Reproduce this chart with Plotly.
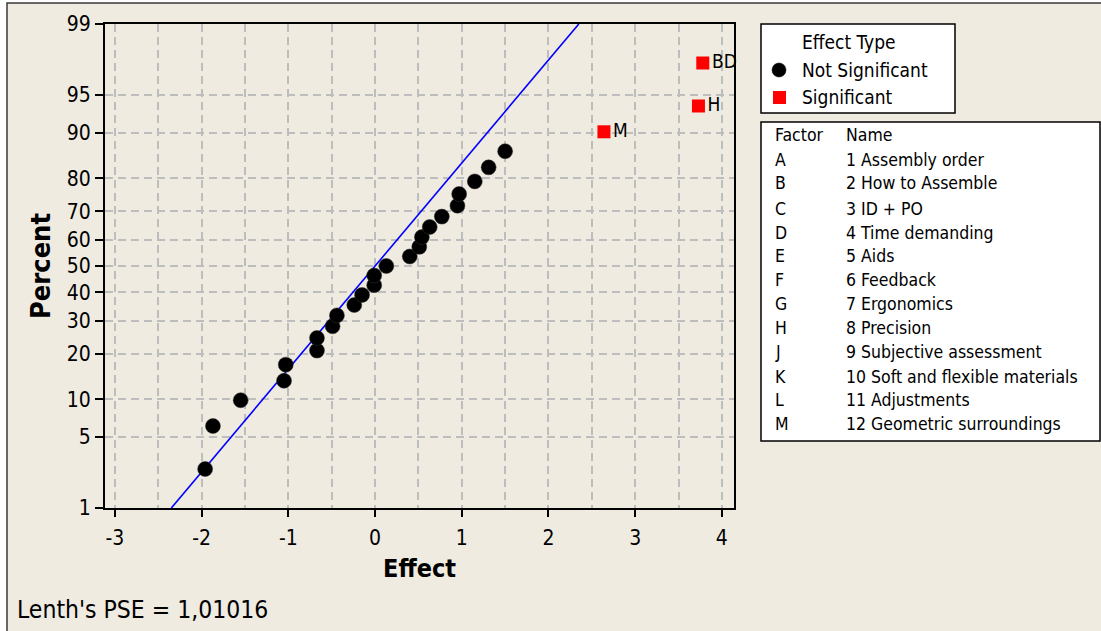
import plotly.graph_objects as go
from statistics import NormalDist

nd = NormalDist()

# ---------------- data ----------------
effect_ns = [-1.96, -1.87, -1.55, -1.05, -1.03, -0.67, -0.67, -0.49, -0.44, -0.24,
             -0.15, -0.01, -0.01, 0.13, 0.40, 0.51, 0.54, 0.63, 0.77, 0.95,
             0.97, 1.15, 1.31, 1.50]
percent_ns = [2.55, 6.20, 9.85, 13.50, 17.15, 20.80, 24.45, 28.10, 31.75, 35.40,
              39.05, 42.70, 46.35, 50.00, 53.65, 57.30, 60.95, 64.60, 68.25, 71.90,
              75.55, 79.20, 82.85, 86.50]
effect_sig = [2.64, 3.73, 3.78]
percent_sig = [90.15, 93.80, 97.45]
labels_sig = ["M", "H", "BD"]

lenth_pse = 1.01016
line_percent = [1, 99]

x_ticks = [-3, -2, -1, 0, 1, 2, 3, 4]
y_tick_percent = [1, 5, 10, 20, 30, 40, 50, 60, 70, 80, 90, 95, 99]

factor_codes = ["A", "B", "C", "D", "E", "F", "G", "H", "J", "K", "L", "M"]
factor_names = ["1 Assembly order", "2 How to Assemble", "3 ID + PO", "4 Time demanding",
                "5 Aids", "6 Feedback", "7 Ergonomics", "8 Precision",
                "9 Subjective assessment", "10 Soft and flexible materials",
                "11 Adjustments", "12 Geometric surroundings"]


def z(p):
    return nd.inv_cdf(p / 100.0)


# ---------------- layout geometry (pixels) ----------------
W, H = 1101, 631
L, R, T, B = 105, 734, 24, 508
FONT = "DejaVu Sans Condensed, Liberation Sans, sans-serif"
BG = "#EFEBE1"


def px(x):
    return (x - L) / (R - L)


def py(y):
    return (B - y) / (B - T)


fig = go.Figure()

# fitted line
fig.add_trace(go.Scatter(
    x=[lenth_pse * z(p) for p in line_percent],
    y=[z(p) for p in line_percent],
    mode="lines", line=dict(color="#0000FF", width=1.6),
    hoverinfo="skip", showlegend=False))

# not significant effects
fig.add_trace(go.Scatter(
    x=effect_ns, y=[z(p) for p in percent_ns], mode="markers",
    marker=dict(symbol="circle", size=15, color="black",
                line=dict(color="#333333", width=0.5)),
    name="Not Significant", showlegend=False))

# significant effects
fig.add_trace(go.Scatter(
    x=effect_sig, y=[z(p) for p in percent_sig], mode="markers+text",
    text=labels_sig, textposition="middle right",
    textfont=dict(family=FONT, size=19, color="black"),
    marker=dict(symbol="square", size=13, color="#FF0000"),
    cliponaxis=False, name="Significant", showlegend=False))

grid_col = "#BDBDBD"

fig.update_xaxes(
    range=[-3.115, 4.14], tickmode="array", tickvals=x_ticks,
    ticktext=[str(v) for v in x_ticks],
    ticks="outside", ticklen=7, tickwidth=1.5, tickcolor="black",
    ticklabelstandoff=3,
    showline=True, linecolor="black", linewidth=2, mirror=True,
    showgrid=True, gridcolor=grid_col, griddash="8px,5px", gridwidth=1.5,
    zeroline=False,
    minor=dict(tickmode="linear", tick0=-3, dtick=0.5, showgrid=True,
               gridcolor=grid_col, griddash="8px,5px", gridwidth=1.5, ticks=""),
    tickfont=dict(family=FONT, size=21, color="black"),
    title=dict(text="<b>Effect</b>", font=dict(family=FONT, size=25, color="black"),
               standoff=10))

fig.update_yaxes(
    range=[z(1), z(99)], tickmode="array",
    tickvals=[z(p) for p in y_tick_percent],
    ticktext=[str(p) for p in y_tick_percent],
    ticks="outside", ticklen=8, tickwidth=1.5, tickcolor="black",
    showline=True, linecolor="black", linewidth=2, mirror=True,
    showgrid=True, gridcolor=grid_col, griddash="8px,5px", gridwidth=1.5,
    zeroline=False,
    tickfont=dict(family=FONT, size=21, color="black"),
    title=dict(text="<b>Percent</b>", font=dict(family=FONT, size=27, color="black"),
               standoff=8))

shapes = []
# outer frame
shapes.append(dict(type="rect", xref="paper", yref="paper",
                   x0=px(7), x1=px(1110), y0=py(3), y1=py(640),
                   fillcolor=BG, line=dict(color="#3A3A3A", width=1.5), layer="below"))
# legend boxes
shapes.append(dict(type="rect", xref="paper", yref="paper",
                   x0=px(761), x1=px(955), y0=py(24), y1=py(113),
                   fillcolor="white", line=dict(color="black", width=1.5)))
shapes.append(dict(type="rect", xref="paper", yref="paper",
                   x0=px(761), x1=px(1100), y0=py(122), y1=py(441),
                   fillcolor="white", line=dict(color="black", width=1.5)))
# legend symbols
shapes.append(dict(type="circle", xref="paper", yref="paper",
                   x0=px(772), x1=px(786), y0=py(63), y1=py(77),
                   fillcolor="black", line=dict(color="black", width=0.5)))
shapes.append(dict(type="rect", xref="paper", yref="paper",
                   x0=px(773), x1=px(786), y0=py(91), y1=py(104),
                   fillcolor="#FF0000", line=dict(color="#FF0000", width=0)))

annotations = []


def txt(x, y, s, size, bold=False, xanchor="left"):
    annotations.append(dict(
        xref="paper", yref="paper", x=px(x), y=py(y), text=(f"<b>{s}</b>" if bold else s),
        showarrow=False, xanchor=xanchor, yanchor="middle",
        font=dict(family=FONT, size=size, color="black")))


txt(800, 42, "Effect Type", 19)
txt(800, 70, "Not Significant", 19)
txt(800, 97, "Significant", 19)

txt(773, 135, "Factor", 17.5)
txt(844, 135, "Name", 17.5)
row_y = [160, 183, 209, 233, 256, 280, 304, 328, 352, 377, 400, 424]
for ry, code, name in zip(row_y, factor_codes, factor_names):
    txt(773, ry, code, 17.5)
    txt(844, ry, name, 17.5)

txt(15, 609, f"Lenth's PSE = {str(lenth_pse).replace('.', ',')}", 24.5)

fig.update_layout(
    width=W, height=H,
    margin=dict(l=L, r=W - R, t=T, b=H - B, pad=0),
    paper_bgcolor="white", plot_bgcolor="white",
    shapes=shapes, annotations=annotations, showlegend=False,
    font=dict(family=FONT, color="black"))

fig.write_html("out.html")
